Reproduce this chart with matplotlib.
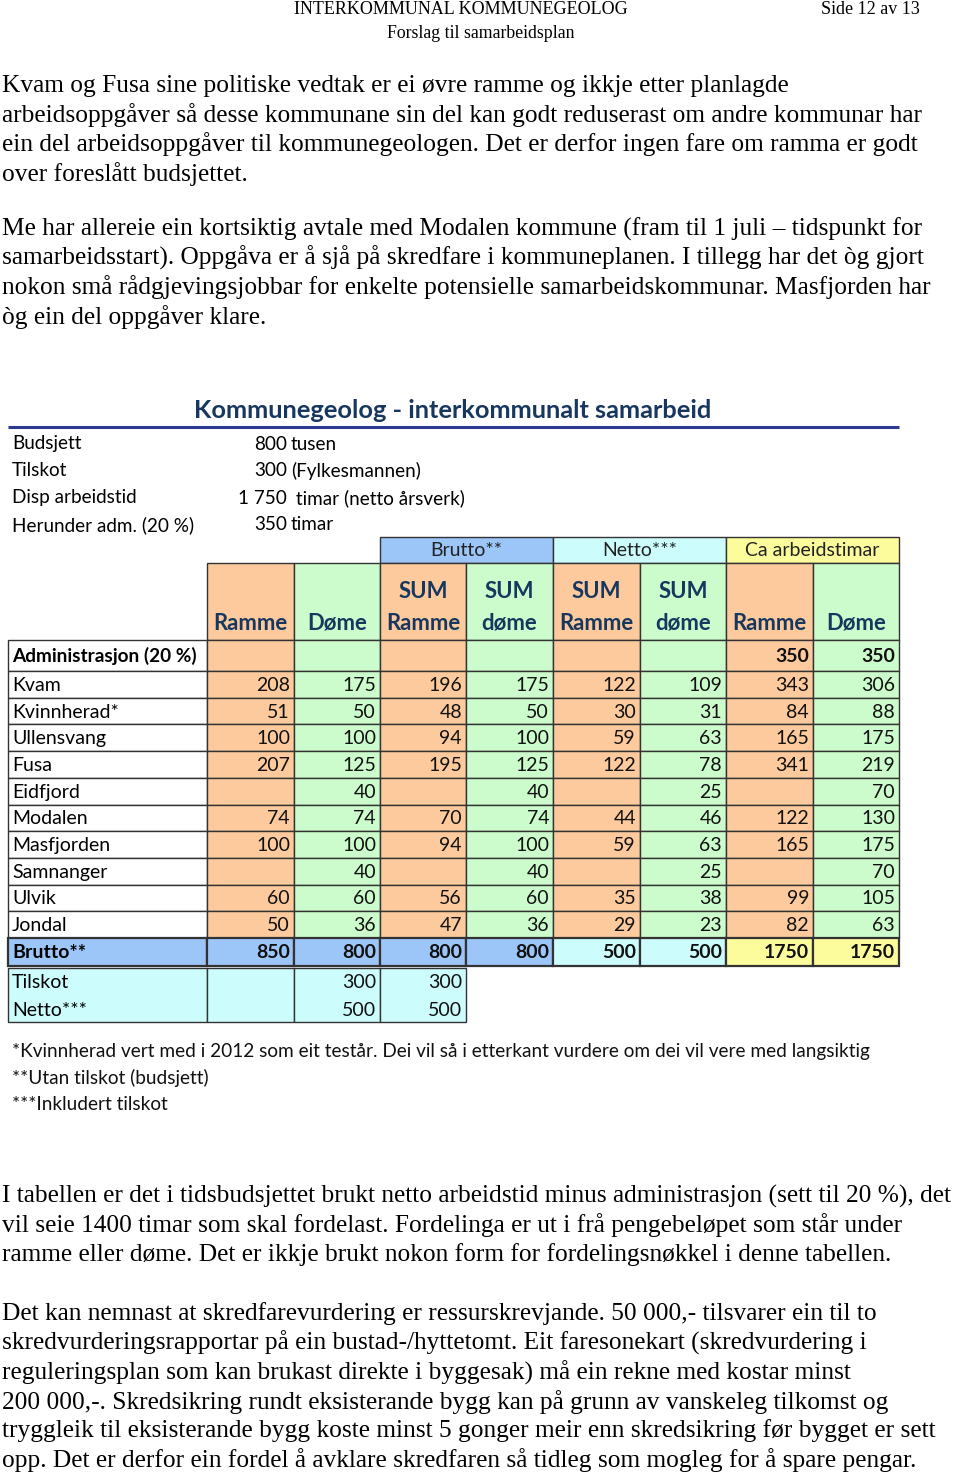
import matplotlib.pyplot as plt
from matplotlib.patches import Rectangle

# ================= 1. data from the table =================
kommunar = ['Kvam', 'Kvinnherad*', 'Ullensvang', 'Fusa', 'Eidfjord', 'Modalen',
            'Masfjorden', 'Samnanger', 'Ulvik', 'Jondal']
ramme = [208, 51, 100, 207, None, 74, 100, None, 60, 50]
dome = [175, 50, 100, 125, 40, 74, 100, 40, 60, 36]
brutto_sum_ramme = [196, 48, 94, 195, None, 70, 94, None, 56, 47]
brutto_sum_dome = [175, 50, 100, 125, 40, 74, 100, 40, 60, 36]
netto_sum_ramme = [122, 30, 59, 122, None, 44, 59, None, 35, 29]
netto_sum_dome = [109, 31, 63, 78, 25, 46, 63, 25, 38, 23]
timar_ramme = [343, 84, 165, 341, None, 122, 165, None, 99, 82]
timar_dome = [306, 88, 175, 219, 70, 130, 175, 70, 105, 63]

admin_timar = [350, 350]                       # Ramme, Døme under "Ca arbeidstimar"
brutto_total = [850, 800, 800, 800, 500, 500, 1750, 1750]
tilskot_row = [None, 300, 300]                 # Ramme, Døme, SUM Ramme
netto_row = [None, 500, 500]

col_headers = [('', 'Ramme'), ('', 'Døme'), ('SUM', 'Ramme'), ('SUM', 'døme'),
               ('SUM', 'Ramme'), ('SUM', 'døme'), ('', 'Ramme'), ('', 'Døme')]
band_headers = ['Brutto**', 'Netto***', 'Ca arbeidstimar']

info_labels = ['Budsjett', 'Tilskot', 'Disp arbeidstid', 'Herunder adm. (20 %)']
info_values = ['800', '300', '1 750', '350']
info_units = ['tusen', '(Fylkesmannen)', ' timar (netto årsverk)', 'timar']

footnotes = ['*Kvinnherad vert med i 2012 som eit testår. Dei vil så i etterkant vurdere om dei vil vere med langsiktig',
             '**Utan tilskot (budsjett)',
             '***Inkludert tilskot']

para_top = [
    ['Kvam og Fusa sine politiske vedtak er ei øvre ramme og ikkje etter planlagde',
     'arbeidsoppgåver så desse kommunane sin del kan godt reduserast om andre kommunar har',
     'ein del arbeidsoppgåver til kommunegeologen. Det er derfor ingen fare om ramma er godt',
     'over foreslått budsjettet.'],
    ['Me har allereie ein kortsiktig avtale med Modalen kommune (fram til 1 juli – tidspunkt for',
     'samarbeidsstart). Oppgåva er å sjå på skredfare i kommuneplanen. I tillegg har det òg gjort',
     'nokon små rådgjevingsjobbar for enkelte potensielle samarbeidskommunar. Masfjorden har',
     'òg ein del oppgåver klare.'],
]
para_bottom = [
    ['I tabellen er det i tidsbudsjettet brukt netto arbeidstid minus administrasjon (sett til 20 %), det',
     'vil seie 1400 timar som skal fordelast. Fordelinga er ut i frå pengebeløpet som står under',
     'ramme eller døme. Det er ikkje brukt nokon form for fordelingsnøkkel i denne tabellen.'],
    ['Det kan nemnast at skredfarevurdering er ressurskrevjande. 50 000,- tilsvarer ein til to',
     'skredvurderingsrapportar på ein bustad-/hyttetomt. Eit faresonekart (skredvurdering i',
     'reguleringsplan som kan brukast direkte i byggesak) må ein rekne med kostar minst',
     '200 000,-. Skredsikring rundt eksisterande bygg kan på grunn av vanskeleg tilkomst og',
     'tryggleik til eksisterande bygg koste minst 5 gonger meir enn skredsikring før bygget er sett',
     'opp. Det er derfor ein fordel å avklare skredfaren så tidleg som mogleg for å spare pengar.'],
]

# ================= 2. page setup (pixel coordinates) =================
W, H = 960, 1475
fig = plt.figure(figsize=(W / 100, H / 100), dpi=100)
ax = fig.add_axes([0, 0, 1, 1])
ax.set_xlim(0, W)
ax.set_ylim(H, 0)
ax.axis('off')

SERIF = ['Liberation Serif', 'DejaVu Serif']
SANS = ['Lato', 'DejaVu Sans']
NAVY = '#17375e'
ORANGE = '#fcca9c'
GREEN = '#ccfccc'
BLUE = '#9cc6f8'
CYAN = '#ccfcfc'
YELLOW = '#fcfc9c'
EDGE = '#333333'
FS = 14          # table text

# page header
ax.text(461, 10, 'INTERKOMMUNAL KOMMUNEGEOLOG', family=SERIF, fontsize=13, ha='center', va='center')
ax.text(920, 10, 'Side 12 av 13', family=SERIF, fontsize=13, ha='right', va='center')
ax.text(481, 34, 'Forslag til samarbeidsplan', family=SERIF, fontsize=12.8, ha='center', va='center')


def paragraph(lines, y0, step=29.2):
    for i, s in enumerate(lines):
        ax.text(2, y0 + i * step, s, family=SERIF, fontsize=18.3, ha='left', va='center')


paragraph(para_top[0], 86)
paragraph(para_top[1], 229)
paragraph(para_bottom[0], 1196)
paragraph(para_bottom[1], 1314)

# ================= 3. title + budget info =================
ax.text(453, 410, 'Kommunegeolog - interkommunalt samarbeid', family=SANS, fontsize=18.3,
        fontweight='bold', color=NAVY, ha='center', va='center')
ax.plot([8, 899], [427, 427], color='#2b3990', lw=2.2, solid_capstyle='butt')

for i in range(len(info_labels)):
    y = 444 + i * 27
    ax.text(12, y, info_labels[i], family=SANS, fontsize=13.6, ha='left', va='center')
    ax.text(287, y, info_values[i], family=SANS, fontsize=13.6, ha='right', va='center')
    ax.text(291, y, info_units[i], family=SANS, fontsize=13.6, ha='left', va='center')

# ================= 4. table =================
cx = [8, 207, 294, 380, 466, 553, 640, 726, 813, 899]
col_fill = [ORANGE, GREEN, ORANGE, GREEN, ORANGE, GREEN, ORANGE, GREEN]


def cell(x0, x1, y0, y1, fill, lw=1.0):
    ax.add_patch(Rectangle((x0, y0), x1 - x0, y1 - y0, facecolor=fill, edgecolor=EDGE, lw=lw))


def num(col, y, v, bold=False):
    if v is None:
        return
    ax.text(cx[col + 2] - 4, y, str(v), family=SANS, fontsize=FS, ha='right', va='center',
            fontweight='bold' if bold else 'normal', color='#111111')


# band row
for k, (name, fill) in enumerate(zip(band_headers, [BLUE, CYAN, YELLOW])):
    x0, x1 = cx[3 + 2 * k], cx[5 + 2 * k]
    cell(x0, x1, 537, 563, fill)
    ax.text((x0 + x1) / 2, 551, name, family=SANS, fontsize=FS, ha='center', va='center', color='#222222')

# column headers
for j, (l1, l2) in enumerate(col_headers):
    cell(cx[j + 1], cx[j + 2], 563, 640, col_fill[j])
    xm = (cx[j + 1] + cx[j + 2]) / 2
    if l1:
        ax.text(xm, 592, l1, family=SANS, fontsize=15.9, fontweight='bold', color=NAVY, ha='center', va='center')
    ax.text(xm, 623, l2, family=SANS, fontsize=15.9, fontweight='bold', color=NAVY, ha='center', va='center')

# administrasjon row
cell(cx[0], cx[1], 640, 671, 'white')
ax.text(12, 656, 'Administrasjon (20 %)', family=SANS, fontsize=13.7, fontweight='bold', ha='left', va='center')
for j in range(8):
    cell(cx[j + 1], cx[j + 2], 640, 671, col_fill[j])
num(6, 656, admin_timar[0], bold=True)
num(7, 656, admin_timar[1], bold=True)

# kommune rows
RH = 26.7
columns = [ramme, dome, brutto_sum_ramme, brutto_sum_dome,
           netto_sum_ramme, netto_sum_dome, timar_ramme, timar_dome]
for i, name in enumerate(kommunar):
    y0 = 671 + i * RH
    ym = y0 + RH / 2 + 1
    cell(cx[0], cx[1], y0, y0 + RH, 'white')
    ax.text(12, ym, name, family=SANS, fontsize=FS, ha='left', va='center')
    for j in range(8):
        cell(cx[j + 1], cx[j + 2], y0, y0 + RH, col_fill[j])
        num(j, ym, columns[j][i])

# brutto row
yb0 = 671 + len(kommunar) * RH
yb1 = yb0 + 28
brutto_fill = [BLUE, BLUE, BLUE, BLUE, CYAN, CYAN, YELLOW, YELLOW]
cell(cx[0], cx[1], yb0, yb1, BLUE, lw=1.6)
ax.text(12, (yb0 + yb1) / 2 + 1, 'Brutto**', family=SANS, fontsize=FS, fontweight='bold', ha='left', va='center')
for j in range(8):
    cell(cx[j + 1], cx[j + 2], yb0, yb1, brutto_fill[j], lw=1.6)
    num(j, (yb0 + yb1) / 2 + 1, brutto_total[j], bold=True)

# tilskot / netto block
yt0, yt1 = yb1 + 2, yb1 + 56
for j in range(4):
    cell(cx[j], cx[j + 1], yt0, yt1, CYAN)
ax.text(12, yt0 + 15, 'Tilskot', family=SANS, fontsize=FS, ha='left', va='center')
ax.text(12, yt0 + 42, 'Netto***', family=SANS, fontsize=FS, ha='left', va='center')
for j in range(3):
    num(j, yt0 + 15, tilskot_row[j])
    num(j, yt0 + 42, netto_row[j])

# footnotes
for i, s in enumerate(footnotes):
    ax.text(12, 1051 + i * 27, s, family=SANS, fontsize=13.7, ha='left', va='center', color='#111111')

fig.savefig('out.png', dpi=100, facecolor='white')
